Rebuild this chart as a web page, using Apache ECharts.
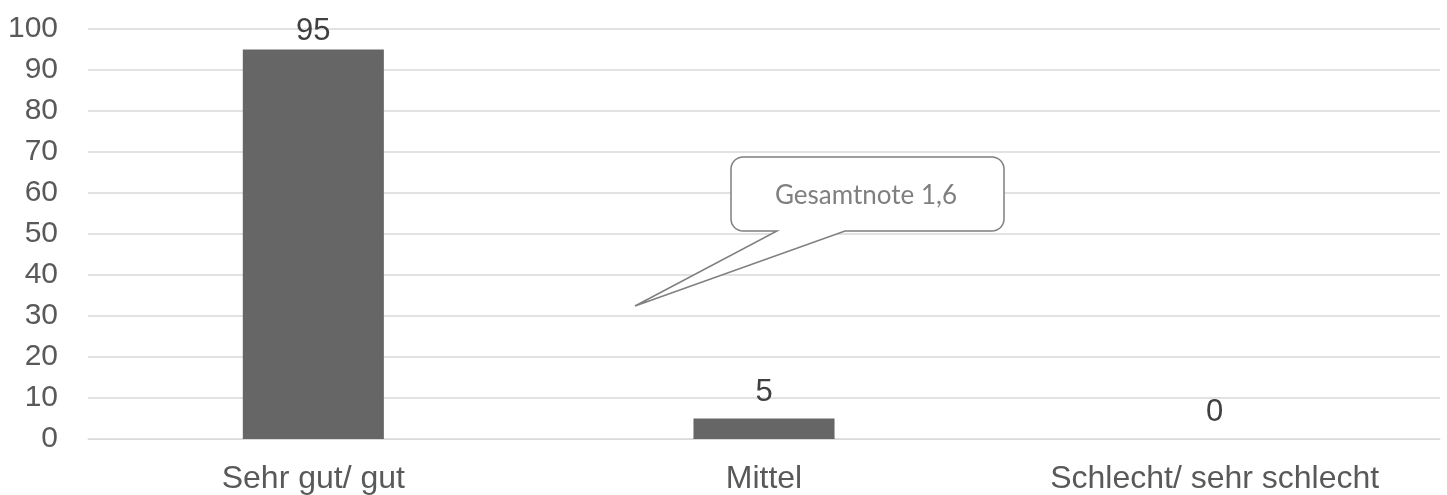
<!DOCTYPE html>
<html>
<head>
<meta charset="utf-8">
<script src="https://cdn.jsdelivr.net/npm/echarts@6/dist/echarts.min.js"></script>
<style>
html,body{margin:0;padding:0;background:#fff;}
#chart{width:1447px;height:495px;}
</style>
</head>
<body>
<div id="chart"></div>
<script>
const categories = ['Sehr gut/ gut', 'Mittel', 'Schlecht/ sehr schlecht'];
const values = [95, 5, 0];
const yTicks = [0, 10, 20, 30, 40, 50, 60, 70, 80, 90, 100];
const calloutText = 'Gesamtnote 1,6';

const chart = echarts.init(document.getElementById('chart'), null, {renderer: 'canvas'});
const FONT = '"Liberation Sans", Arial, sans-serif';

// callout outline: rounded box with a tail
function calloutPoints(x0, y0, x1, y1, r, tailL, tailR, tipX, tipY) {
  const pts = [];
  function arc(cx, cy, a0, a1) {
    const n = 8;
    for (let i = 0; i <= n; i++) {
      const a = a0 + (a1 - a0) * i / n;
      pts.push([cx + r * Math.cos(a), cy + r * Math.sin(a)]);
    }
  }
  arc(x0 + r, y0 + r, Math.PI, 1.5 * Math.PI);      // top-left
  arc(x1 - r, y0 + r, 1.5 * Math.PI, 2 * Math.PI);  // top-right
  arc(x1 - r, y1 - r, 0, 0.5 * Math.PI);            // bottom-right
  pts.push([tailR, y1]);
  pts.push([tipX, tipY]);
  pts.push([tailL, y1]);
  arc(x0 + r, y1 - r, 0.5 * Math.PI, Math.PI);      // bottom-left
  return pts;
}

const option = {
  animation: false,
  grid: {left: 88, right: 7, top: 29, bottom: 55, containLabel: false},
  xAxis: {
    type: 'category',
    data: categories,
    axisLine: {show: true, lineStyle: {color: '#d9d9d9', width: 1}},
    axisTick: {show: false},
    axisLabel: {color: '#595959', fontSize: 32, fontFamily: FONT, margin: 24}
  },
  yAxis: {
    type: 'value',
    min: yTicks[0],
    max: yTicks[yTicks.length - 1],
    interval: 10,
    axisLine: {show: false},
    axisTick: {show: false},
    axisLabel: {color: '#595959', fontSize: 30, fontFamily: FONT, margin: 30},
    splitLine: {lineStyle: {color: '#d9d9d9', width: 1.5}}
  },
  series: [{
    type: 'bar',
    data: values.map((v, i) => ({
      value: v,
      label: {distance: i === 0 ? 3 : 11}
    })),
    barWidth: '31.3%',
    itemStyle: {color: '#666666'},
    label: {
      show: true,
      position: 'top',
      color: '#404040',
      fontSize: 31,
      fontFamily: FONT
    }
  }],
  graphic: [{
    type: 'polygon',
    shape: {points: calloutPoints(731, 157, 1004, 231, 12, 777, 845, 635, 306)},
    style: {fill: '#ffffff', stroke: '#7f7f7f', lineWidth: 1.5},
    z: 100
  }, {
    type: 'text',
    x: 866, y: 196,
    style: {
      text: calloutText,
      fill: '#7f7f7f',
      font: '26px Lato, "Open Sans", sans-serif',
      align: 'center',
      verticalAlign: 'middle'
    },
    z: 101
  }]
};
chart.setOption(option);
</script>
</body>
</html>
